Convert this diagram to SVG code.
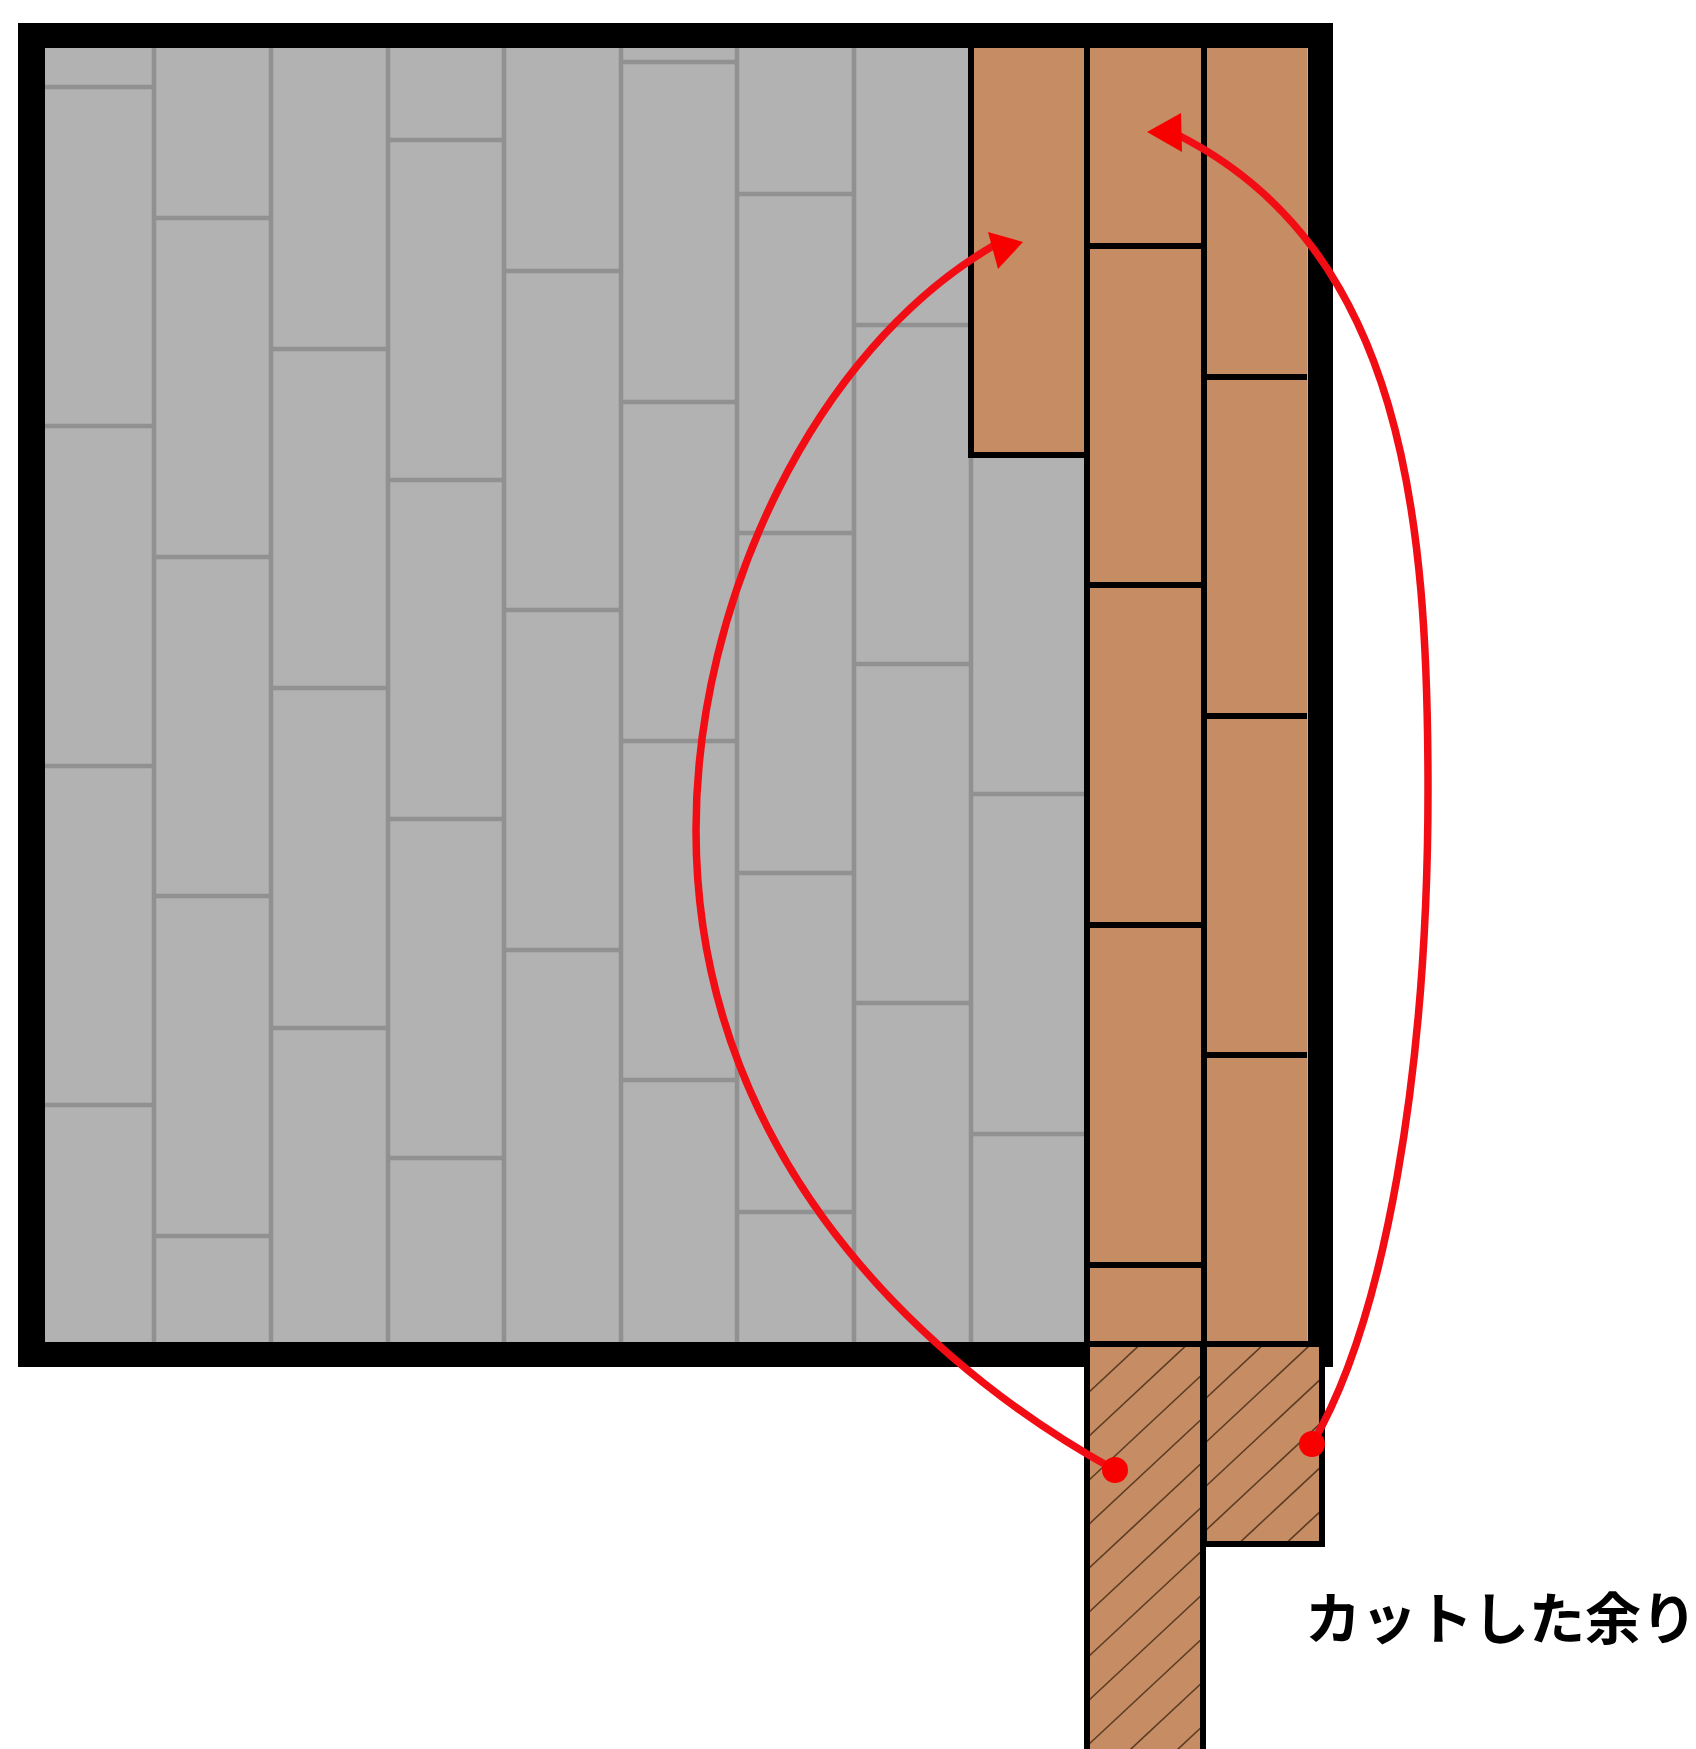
<svg xmlns="http://www.w3.org/2000/svg" width="1696" height="1749" viewBox="0 0 1696 1749">
<style>
.gs{stroke:#919191;stroke-width:4.5;fill:none}
.bs{stroke:#000;stroke-width:6;fill:none}
.arc{stroke:#f20d15;stroke-width:7.5;fill:none;stroke-linecap:round}
.tip{fill:#f80000}
.wood{fill:#c68c63}
.hl{stroke:#5a3b24;stroke-width:1.6;fill:none}
.t{font-family:"Noto Sans CJK JP","Liberation Sans",sans-serif;font-size:56px;font-weight:700;fill:#000}
</style>
<defs>
<clipPath id="c1"><rect x="1087" y="1344" width="116" height="405"/></clipPath>
<clipPath id="c2"><rect x="1204" y="1344" width="118" height="200"/></clipPath>
</defs>
<rect width="1696" height="1749" fill="#fff"/>
<g id="room">
<rect x="18" y="23" width="1315" height="1344" fill="#000"/>
<rect x="45" y="48" width="1263" height="1294" fill="#b2b2b2"/>
</g>
<g id="gray-boards">
<path class="gs" d="M154,48V1342M271,48V1342M388,48V1342M504,48V1342M621,48V1342M737,48V1342M854,48V1342M971,455V1342"/>
<path class="gs" d="M45,87H154M45,426H154M45,766H154M45,1105H154"/>
<path class="gs" d="M154,218H271M154,557H271M154,896H271M154,1236H271"/>
<path class="gs" d="M271,349H388M271,688H388M271,1028H388"/>
<path class="gs" d="M388,140H504M388,480H504M388,819H504M388,1158H504"/>
<path class="gs" d="M504,271H621M504,610H621M504,950H621"/>
<path class="gs" d="M621,62H737M621,402H737M621,741H737M621,1080H737"/>
<path class="gs" d="M737,194H854M737,533H854M737,873H854M737,1212H854"/>
<path class="gs" d="M854,325H971M854,664H971M854,1003H971"/>
<path class="gs" d="M971,794H1087M971,1134H1087"/>
</g>
<g id="wood-boards">
<rect class="wood" x="971" y="48" width="116" height="407"/>
<rect class="wood" x="1087" y="48" width="117" height="1296"/>
<rect class="wood" x="1204" y="48" width="103" height="1296"/>
<path class="bs" d="M971,48V455H1087M1087,48V1344M1204,48V1344"/>
<path class="bs" d="M1087,246H1204M1087,585H1204M1087,925H1204M1087,1265H1204"/>
<path class="bs" d="M1204,377H1307M1204,716H1307M1204,1055H1307"/>
</g>
<g id="offcut-1">
<rect class="wood" x="1087" y="1344" width="116" height="405"/>
<path class="hl" clip-path="url(#c1)" d="M1087,1394L1207,1282M1087,1438L1207,1326M1087,1482L1207,1370M1087,1526L1207,1414M1087,1570L1207,1458M1087,1614L1207,1502M1087,1658L1207,1546M1087,1702L1207,1590M1087,1746L1207,1634M1087,1790L1207,1678M1087,1834L1207,1722M1087,1878L1207,1766"/>
<path class="bs" d="M1087,1344V1749M1203,1344V1749M1087,1344H1204"/>
</g>
<g id="offcut-2">
<rect class="wood" x="1204" y="1344" width="118" height="200"/>
<path class="hl" clip-path="url(#c2)" d="M1204,1400L1325,1287M1204,1444L1325,1331M1204,1488L1325,1375M1204,1532L1325,1419M1204,1576L1325,1463M1204,1620L1325,1507"/>
<path class="bs" d="M1204,1344V1544H1322V1344H1204"/>
</g>
<g id="connectors">
<path class="arc" d="M1115,1470C960,1385 696,1180 696,830C696,600 815,350 993,246"/>
<circle class="tip" cx="1115" cy="1470" r="13"/>
<polygon class="tip" points="1023,242 988,232 998,269"/>
<path class="arc" d="M1312,1444C1385,1320 1428,1070 1428,790C1428,520 1405,250 1178,135"/>
<circle class="tip" cx="1312" cy="1444" r="13"/>
<polygon class="tip" points="1147,132 1181,113 1182,152"/>
</g>
<g id="label"><text class="t" x="1305" y="1639">カットした余り</text></g>
</svg>
